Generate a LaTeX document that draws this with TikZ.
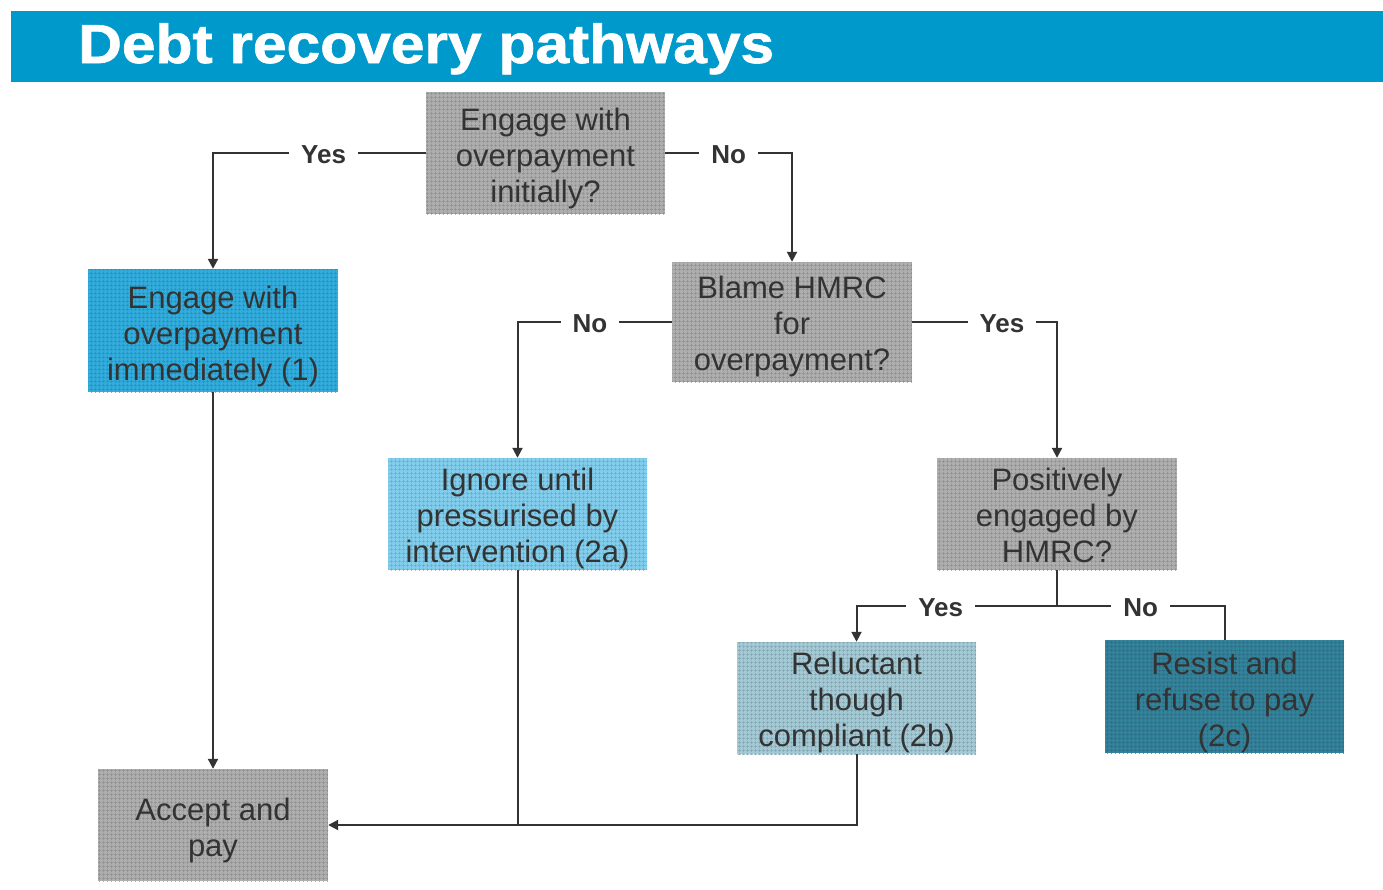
\documentclass[tikz,border=0pt]{standalone}
\usepackage{fontspec}
\setmainfont{Liberation Sans}
\newfontfamily\titlefont[FakeBold=1.2]{Liberation Sans Bold}
\usetikzlibrary{arrows.meta,patterns.meta}
\definecolor{hdr}{HTML}{0099CC}
\definecolor{txt}{HTML}{333333}
\definecolor{gbox}{HTML}{AEAEAE}
\definecolor{bone}{HTML}{34ACDB}
\definecolor{btwoa}{HTML}{82CDEB}
\definecolor{btwob}{HTML}{A2C9D6}
\definecolor{btwoc}{HTML}{33829C}
\tikzset{
  bx/.style={rectangle, inner sep=0pt, preaction={fill=#1},
    pattern={Hatch[distance=4pt, angle=0, line width=0.5pt]}, pattern color=#1!82!black},
  bt/.style={align=center, text=txt, inner sep=0pt, font=\fontsize{31}{36}\selectfont},
  lbl/.style={fill=white, inner sep=12pt, text=txt, yshift=-1.5pt, font=\bfseries\fontsize{26}{30}\selectfont},
  con/.style={draw=txt, line width=2pt},
  arr/.style={con, -{Triangle[length=10pt,width=10pt]}}
}
\begin{document}
\begin{tikzpicture}[x=1pt,y=-1pt]
\useasboundingbox (0,0) rectangle (1383,889);
\fill[white] (0,0) rectangle (1383,889);
% header
\node[fill=hdr, minimum width=1372, minimum height=71, inner sep=0pt] (hdr) at (697,46.5) {};
\node[anchor=base west, text=white, font=\titlefont\fontsize{55}{60}\selectfont, inner sep=0pt, xscale=1.1] (title) at (78,63) {Debt recovery pathways};
% boxes
\node[bx=gbox, minimum width=239, minimum height=122,
  label={[bt, yshift=-5pt]center:{Engage with\\overpayment\\initially?}}] (A) at (545.5,153) {};
\node[bx=gbox, minimum width=240, minimum height=120,
  label={[bt, yshift=-4.5pt]center:{Blame HMRC\\for\\overpayment?}}] (B) at (792,322) {};
\node[bx=bone, minimum width=250, minimum height=123,
  label={[bt, yshift=-5.5pt]center:{Engage with\\overpayment\\immediately (1)}}] (n1) at (213,330.5) {};
\node[bx=btwoa, minimum width=259, minimum height=112,
  label={[bt, yshift=-4.5pt]center:{Ignore until\\pressurised by\\intervention (2a)}}] (n2a) at (517.5,514) {};
\node[bx=gbox, minimum width=240, minimum height=112,
  label={[bt, yshift=-1.5pt]center:{Positively\\engaged by\\HMRC?}}] (C) at (1057,514) {};
\node[bx=btwob, minimum width=239, minimum height=112,
  label={[bt, yshift=-4.5pt]center:{Reluctant\\though\\compliant (2b)}}] (n2b) at (856.5,698) {};
\node[bx=btwoc, minimum width=239, minimum height=113,
  label={[bt, yshift=-5.5pt]center:{Resist and\\refuse to pay\\(2c)}}] (n2c) at (1224.5,696.5) {};
\node[bx=gbox, minimum width=230, minimum height=112,
  label={[bt, yshift=-5pt]center:{Accept and\\pay}}] (acc) at (213,825) {};
% connectors
\draw[arr] (A.west) -- node[lbl, pos=0.48]{Yes} (A.west -| n1.north) -- (n1.north);
\draw[arr] (A.east) -- node[lbl, pos=0.5]{No} (A.east -| B.north) -- (B.north);
\draw[arr] (B.west) -- node[lbl, pos=0.53]{No} (B.west -| n2a.north) -- (n2a.north);
\draw[arr] (B.east) -- node[lbl, pos=0.62]{Yes} (B.east -| C.north) -- (C.north);
\coordinate (j) at (1057,606);
\draw[con] (C.south) -- (j);
\draw[arr] (j) -- node[lbl, pos=0.58]{Yes} (j -| n2b.north) -- (n2b.north);
\draw[con] (j) -- node[lbl, pos=0.5]{No} (j -| n2c.north) -- (n2c.north);
\draw[arr] (n1.south) -- (acc.north);
\draw[con] (n2a.south) -- (n2a.south |- acc.east);
\draw[arr] (n2b.south) |- (acc.east);
\end{tikzpicture}
\end{document}
